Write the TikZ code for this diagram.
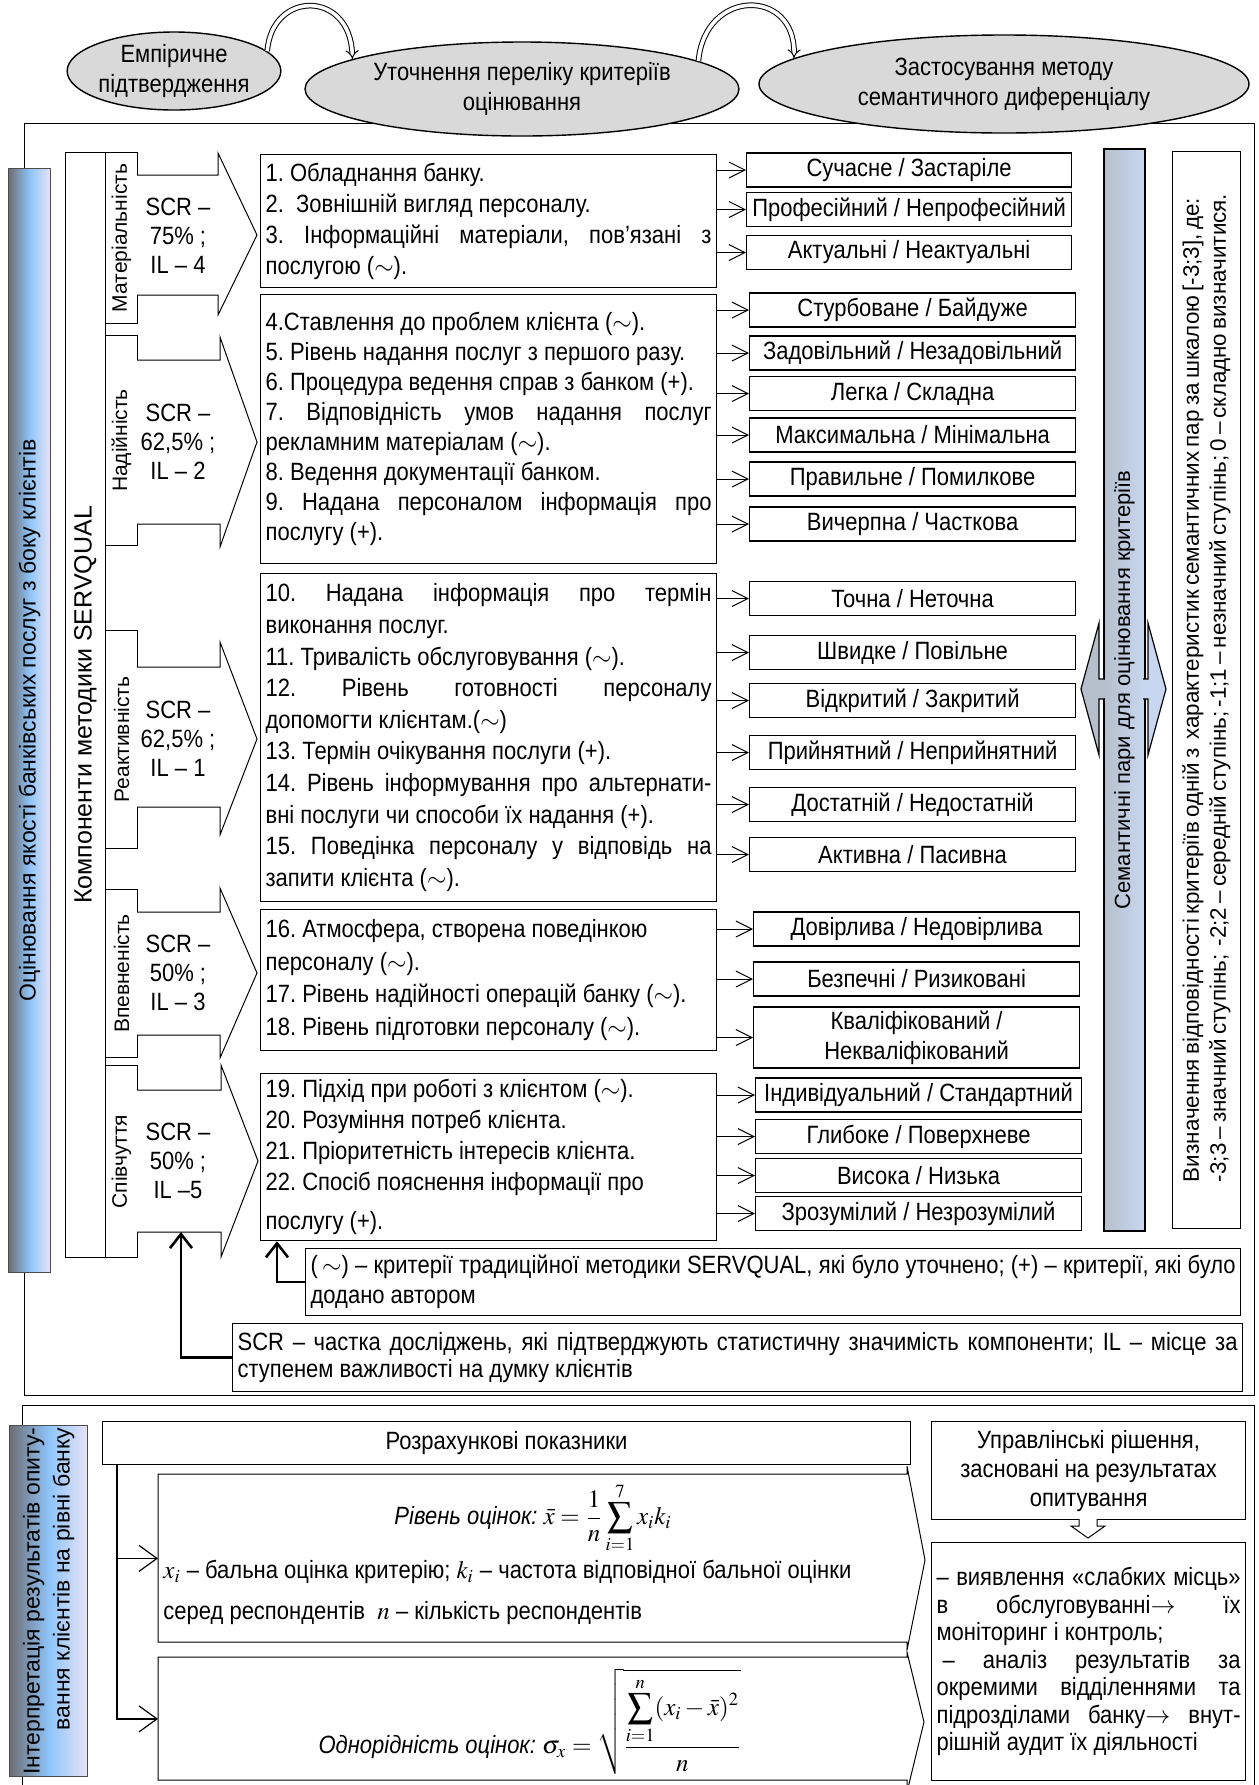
\documentclass[tikz,border=0pt]{standalone}
\usepackage{mathptmx}
\usepackage[no-math]{fontspec}
\setmainfont{Liberation Sans}[FakeStretch=0.88]
\newfontfamily\regfont{Liberation Sans}
\usetikzlibrary{arrows.meta,shapes.geometric}
\frenchspacing

\definecolor{ovalgray}{HTML}{D9D9D9}
\definecolor{bardark}{HTML}{6E6E73}
\definecolor{barblue}{HTML}{8EC4FA}
\definecolor{barlav}{HTML}{E8E4F4}
\definecolor{semleft}{HTML}{B6BFCC}
\definecolor{semright}{HTML}{C8D7F0}

\newcommand{\jline}[1]{\makebox[\hsize][s]{#1}}
\newcommand{\tild}{($\sim$)}

\begin{document}
\begin{tikzpicture}[
            x=0.5pt, y=-0.5pt,
            every node/.style={inner sep=0pt},
            oval/.style={ellipse, draw, fill=ovalgray, line width=0.7pt, align=center, font=\fontsize{12.5}{15}\selectfont},
            dblarr/.style={double=white, double distance=1.8pt, line width=0.5pt, -{Implies}},
            crit/.style={draw, fill=white, anchor=north west, text width=223pt, inner xsep=2.5pt, align=flush left, line width=0.6pt},
            pair/.style={draw, fill=white, anchor=west, minimum width=163pt, minimum height=17pt, line width=0.6pt, align=center, font=\fontsize{12.5}{15}\selectfont},
            pairarr/.style={line width=0.5pt, -{Straight Barb[length=8pt,width=8pt]}},
            tab/.style={draw, fill=white, anchor=north west, minimum width=16pt, line width=0.5pt, font=\regfont\fontsize{10.5}{12}\selectfont},
            scr/.style={align=center, font=\fontsize{12.5}{14.5}\selectfont},
            callout/.style={draw, fill=white, line width=0.5pt},
            lbar/.style={anchor=north west, draw=black!70, line width=0.6pt, left color=bardark, right color=barlav, middle color=barblue},
            note/.style={draw, fill=white, anchor=north west, align=flush left, inner xsep=2.5pt, line width=0.6pt, font=\fontsize{12.5}{15}\selectfont},
            noteup/.style={line width=1.3pt, -{Straight Barb[length=7pt,width=11pt]}},
            lowarr/.style={line width=0.6pt, -{Straight Barb[length=9pt,width=13pt]}},
        ]
            \useasboundingbox (0,0) rectangle (1259,1785);
            \draw[line width=0.5pt] (24,123) rectangle (1254,1395);
            % stages
            \node[oval, minimum width=104pt, minimum height=39pt] (emp) at (174,71) {Емпіричне\\підтвердження};
            \node[oval, minimum width=217pt, minimum height=47pt] (utoch) at (522,89) {Уточнення переліку критеріїв\\оцінювання};
            \node[oval, minimum width=245pt, minimum height=49pt] (zast) at (1004,84) {Застосування методу\\семантичного диференціалу};
            \draw[dblarr] (emp.12) .. controls (272,-10) and (350,-10) .. (utoch.170);
            \draw[dblarr] (utoch.9) .. controls (705,-12) and (795,-12) .. (zast.173);
            % left bars
            \node[lbar, minimum width=21pt, minimum height=552pt, font=\regfont\fontsize{11.5}{14}\selectfont] (ocin) at (8,168) {\rotatebox{90}{Оцінювання якості банківських послуг з боку клієнтів}};
            \node[draw, fill=white, anchor=north west, minimum width=20pt, minimum height=552.5pt, line width=0.5pt, font=\regfont\fontsize{12.5}{15}\selectfont] (komp) at (65,152) {\rotatebox{90}{Компоненти методики SERVQUAL}};
            \node[tab, minimum height=85.5pt] (tabM) at (105,152) {\rotatebox{90}{Матеріальність}};
            \node[tab, minimum height=105pt] (tabN) at (105,335) {\rotatebox{90}{Надійність}};
            \node[tab, minimum height=109pt] (tabR) at (105,630) {\rotatebox{90}{Реактивність}};
            \node[tab, minimum height=84pt] (tabV) at (105,889) {\rotatebox{90}{Впевненість}};
            \node[tab, minimum height=96pt] (tabS) at (105,1065) {\rotatebox{90}{Співчуття}};
            % SCR arrows
            \draw[callout] (137,175) -- (218,175) -- (218,153) -- (257,235) -- (218,315) -- (218,295) -- (137,295);
            \draw[callout] (137,360) -- (220,360) -- (220,337) -- (257,442) -- (220,547) -- (220,524) -- (137,524);
            \draw[callout] (137,667) -- (220,667) -- (220,642) -- (257,739) -- (220,835) -- (220,807) -- (137,807);
            \draw[callout] (137,912) -- (220,912) -- (220,888) -- (257,973) -- (220,1058) -- (220,1035) -- (137,1035);
            \draw[callout] (137,1090) -- (221,1090) -- (221,1065) -- (258,1161) -- (221,1257) -- (221,1232) -- (137,1232);
            \coordinate (spivbot) at (181,1232);
            \node[scr] (scrM) at (178,236) {SCR –\\75\% ;\\IL – 4};
            \node[scr] (scrN) at (178,442) {SCR –\\62,5\% ;\\IL – 2};
            \node[scr] (scrR) at (178,739) {SCR –\\62,5\% ;\\IL – 1};
            \node[scr] (scrV) at (178,973) {SCR –\\50\% ;\\IL – 3};
            \node[scr] (scrS) at (178,1161) {SCR –\\50\% ;\\IL –5};
            % criteria
            \node[crit, minimum height=66.5pt, font=\fontsize{12.5}{15.5}\selectfont] (crit1) at (260,154) {1. Обладнання банку.\\
                2.\ \ Зовнішній вигляд персоналу.\\
                \jline{3. Інформаційні матеріали, пов’язані з}\\
                послугою \tild.};
            \node[crit, minimum height=134.5pt, font=\fontsize{12.5}{15}\selectfont] (crit2) at (260,294) {4.Ставлення до проблем клієнта \tild.\\
                5. Рівень надання послуг з першого разу.\\
                6. Процедура ведення справ з банком (+).\\
                \jline{7. Відповідність умов надання послуг}\\
                рекламним матеріалам \tild.\\
                8. Ведення документації банком.\\
                \jline{9. Надана персоналом інформація про}\\
                послугу (+).};
            \node[crit, minimum height=164pt, font=\fontsize{12.5}{15.8}\selectfont] (crit3) at (260,573) {\jline{10. Надана інформація про термін}\\
                виконання послуг.\\
                11. Тривалість обслуговування \tild.\\
                \jline{12. Рівень готовності персоналу}\\
                допомогти клієнтам.\tild\\
                13. Термін очікування послуги (+).\\
                \jline{14. Рівень інформування про альтернати-}\\
                вні послуги чи способи їх надання (+).\\
                \jline{15. Поведінка персоналу у відповідь на}\\
                запити клієнта \tild.};
            \node[crit, minimum height=70.5pt, font=\fontsize{12.5}{16.3}\selectfont] (crit4) at (260,909) {16. Атмосфера, створена поведінкою\\
                персоналу \tild.\\
                17. Рівень надійності операцій банку \tild.\\
                18. Рівень підготовки персоналу \tild.};
            \node[crit, minimum height=83.5pt, font=\fontsize{12.5}{15.5}\selectfont] (crit5) at (260,1073) {19. Підхід при роботі з клієнтом \tild.\\
                20. Розуміння потреб клієнта.\\
                21. Пріоритетність інтересів клієнта.\\
                22. Спосіб пояснення інформації про\\[4pt]
                послугу (+).};
            % semantic pairs
            \node[pair, minimum width=162.5pt] (p1) at (746,170) {Сучасне / Застаріле};
            \node[pair, minimum width=162.5pt] (p2) at (746,209.5) {Професійний / Непрофесійний};
            \node[pair, minimum width=162.5pt] (p3) at (746,252.5) {Актуальні / Неактуальні};
            \node[pair] (p4) at (749,310) {Стурбоване / Байдуже};
            \node[pair] (p5) at (749,353) {Задовільний / Незадовільний};
            \node[pair] (p6) at (749,393.5) {Легка / Складна};
            \node[pair] (p7) at (749,435) {Максимальна / Мінімальна};
            \node[pair] (p8) at (749,479) {Правильне / Помилкове};
            \node[pair] (p9) at (749,524) {Вичерпна / Часткова};
            \node[pair] (p10) at (749,598.5) {Точна / Неточна};
            \node[pair] (p11) at (749,652.5) {Швидке / Повільне};
            \node[pair] (p12) at (749,700.5) {Відкритий / Закритий};
            \node[pair] (p13) at (749,752.5) {Прийнятний / Неприйнятний};
            \node[pair] (p14) at (749,804.5) {Достатній / Недостатній};
            \node[pair] (p15) at (749,854.5) {Активна / Пасивна};
            \node[pair] (p16) at (753,929) {Довірлива / Недовірлива};
            \node[pair] (p17) at (753,979) {Безпечні / Ризиковані};
            \node[pair, minimum height=30.5pt] (p18) at (753,1037.5) {Кваліфікований /\\Некваліфікований};
            \node[pair] (p19) at (755,1095) {Індивідуальний / Стандартний};
            \node[pair] (p20) at (755,1136.5) {Глибоке / Поверхневе};
            \node[pair] (p21) at (755,1175.5) {Висока / Низька};
            \node[pair] (p22) at (755,1213.5) {Зрозумілий / Незрозумілий};
            \path[pairarr] (p1.west -| crit1.east) edge (p1.west);
            \path[pairarr] (p2.west -| crit1.east) edge (p2.west);
            \path[pairarr] (p3.west -| crit1.east) edge (p3.west);
            \path[pairarr] (p4.west -| crit2.east) edge (p4.west);
            \path[pairarr] (p5.west -| crit2.east) edge (p5.west);
            \path[pairarr] (p6.west -| crit2.east) edge (p6.west);
            \path[pairarr] (p7.west -| crit2.east) edge (p7.west);
            \path[pairarr] (p8.west -| crit2.east) edge (p8.west);
            \path[pairarr] (p9.west -| crit2.east) edge (p9.west);
            \path[pairarr] (p10.west -| crit3.east) edge (p10.west);
            \path[pairarr] (p11.west -| crit3.east) edge (p11.west);
            \path[pairarr] (p12.west -| crit3.east) edge (p12.west);
            \path[pairarr] (p13.west -| crit3.east) edge (p13.west);
            \path[pairarr] (p14.west -| crit3.east) edge (p14.west);
            \path[pairarr] (p15.west -| crit3.east) edge (p15.west);
            \path[pairarr] (p16.west -| crit4.east) edge (p16.west);
            \path[pairarr] (p17.west -| crit4.east) edge (p17.west);
            \path[pairarr] (p18.west -| crit4.east) edge (p18.west);
            \path[pairarr] (p19.west -| crit5.east) edge (p19.west);
            \path[pairarr] (p20.west -| crit5.east) edge (p20.west);
            \path[pairarr] (p21.west -| crit5.east) edge (p21.west);
            \path[pairarr] (p22.west -| crit5.east) edge (p22.west);
            % semantic bar and scale
            \node[anchor=north west, draw, line width=1pt, left color=semleft, right color=semright, minimum width=20.5pt, minimum height=541pt, font=\regfont\fontsize{11}{13}\selectfont] (sembar) at (1103,148) {\rotatebox{90}{Семантичні пари для оцінювання критеріїв}};
            \draw[fill=semleft, line width=0.6pt] (1104,679) -- (1099,679) -- (1099,623) -- (1081,689) -- (1099,755) -- (1099,699) -- (1104,699);
            \fill[semleft] (1101,680) rectangle (1106,698);
            \draw[fill=semright, line width=0.6pt] (1143,679) -- (1148,679) -- (1148,623) -- (1166,689) -- (1148,755) -- (1148,699) -- (1143,699);
            \fill[semright] (1141,680) rectangle (1146,698);
            \node[anchor=north west, draw, fill=white, line width=0.5pt, minimum width=34pt, minimum height=538.5pt, font=\regfont\fontsize{11.2}{13.5}\selectfont] (scale) at (1172,151) {\rotatebox{90}{\parbox{492pt}{\jline{Визначення відповідності критеріїв одній з \ характеристик семантичних пар за шкалою [-3;3], де:}\\
                \jline{-3;3 – значний ступінь; \ -2;2 – середній ступінь; -1;1 – незначний ступінь; 0 – складно визначитися.}}}};
            % notes
            \node[note, text width=462.5pt, minimum height=33.5pt] (note1) at (305,1248) {\jline{(\,$\sim$) – критерії традиційної методики SERVQUAL, які було уточнено; (+) – критерії, які було}\\
                додано автором};
            \node[note, text width=500pt, minimum height=34pt, font=\fontsize{12.5}{13.5}\selectfont] (note2) at (232,1323) {\jline{SCR – частка досліджень, які підтверджують статистичну значимість компоненти; IL – місце за}\\
                ступенем важливості на думку клієнтів};
            \draw[noteup] (note1.west) -| ([xshift=8.5pt]crit5.south west);
            \draw[noteup] (note2.west) -| (spivbot);
            % interpretation
            \draw[line width=0.5pt] (22,1785) -- (22,1405) -- (1254,1405) -- (1254,1785);
            \node[lbar, minimum width=39pt, minimum height=175.5pt, font=\regfont\fontsize{11.5}{15}\selectfont] (interp) at (9,1425) {\rotatebox{90}{\begin{tabular}{@{}r@{}}Інтерпретація результатів опиту-\\вання клієнтів на рівні банку\end{tabular}}};
            \node[draw, fill=white, anchor=north west, minimum width=404pt, minimum height=21.5pt, line width=0.5pt, font=\fontsize{12.5}{15}\selectfont] (rozr) at (102,1421) {Розрахункові показники};
            \node[anchor=north west, minimum width=374.5pt, minimum height=84pt] (boxA) at (158,1474) {};
            \node[anchor=north west, minimum width=374.5pt, minimum height=61.5pt] (boxB) at (158,1657) {};
            \draw[callout] (158,1474) -- (907,1474) -- (907,1466) -- (925,1560) -- (907,1650) -- (907,1642) -- (158,1642) -- cycle;
            \draw[callout] (158,1657) -- (907,1657) -- (907,1652) -- (924,1722) -- (907,1792) -- (907,1780) -- (158,1780) -- cycle;
            \coordinate (split) at ([xshift=7.5pt]rozr.south west);
            \draw[lowarr] (split) |- (boxA.west);
            \draw[lowarr] (split) |- (boxB.west);
            \node[font=\fontsize{12.5}{15}\selectfont] (formA) at (533,1518) {\textit{Рівень оцінок:} $\displaystyle \bar{x}=\frac{1}{n}\sum_{i=1}^{7}x_i k_i$};
            \node[anchor=west, font=\fontsize{12.5}{15}\selectfont] (defA) at (163,1572) {$x_i$ – бальна оцінка критерію; $k_i$ – частота відповідної бальної оцінки};
            \node[anchor=west, font=\fontsize{12.5}{15}\selectfont] (defB) at (163,1613) {серед респондентів \ $n$ – кількість респондентів};
            \node[font=\fontsize{12.5}{15}\selectfont] (formB) at (530,1722) {\textit{Однорідність оцінок:} $\displaystyle \sigma_x=\sqrt{\frac{\displaystyle\sum_{i=1}^{n}(x_i-\bar{x})^2}{n}}$};
            % decisions
            \node[draw, fill=white, anchor=north west, minimum width=157pt, minimum height=49pt, line width=0.6pt, align=center, font=\fontsize{12.5}{14.5}\selectfont] (upr) at (931,1421) {Управлінські рішення,\\засновані на результатах\\опитування};
            \draw[fill=white, line width=0.5pt] (1079,1519) -- (1079,1526) -- (1071,1526) -- (1088,1538) -- (1105,1526) -- (1097,1526) -- (1097,1519);
            \node[draw, fill=white, anchor=north west, text width=152pt, inner xsep=2.5pt, minimum height=119pt, line width=0.6pt, align=flush left, font=\fontsize{12.5}{13.75}\selectfont] (vyav) at (931,1542) {\jline{– виявлення «слабких місць»}\\
                \jline{в обслуговуванні$\rightarrow$ їх}\\
                моніторинг і контроль;\\
                \jline{\hspace*{3pt}– аналіз результатів за}\\
                \jline{окремими відділеннями та}\\
                \jline{підрозділами банку$\rightarrow$ внут-}\\
                рішній аудит їх діяльності};
        \end{tikzpicture}
\end{document}
